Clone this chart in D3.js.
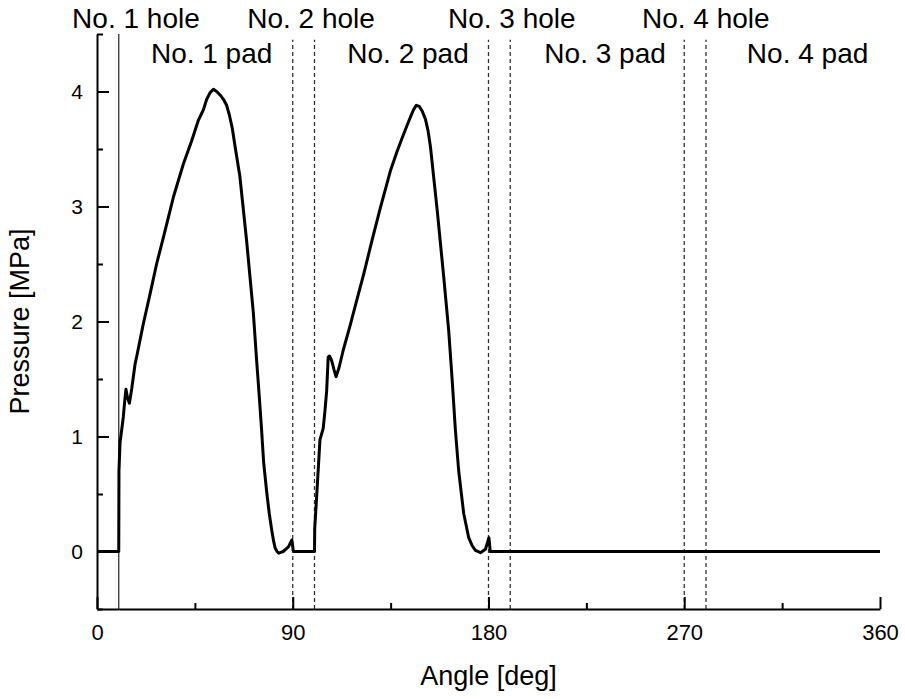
<!DOCTYPE html>
<html>
<head>
<meta charset="utf-8">
<script src="https://cdn.jsdelivr.net/npm/d3@7"></script>
<style>
  body { margin: 0; background: #fff; }
  text { font-family: "Liberation Sans", Arial, sans-serif; fill: #000; }
</style>
</head>
<body>
<div id="chart"></div>
<script>
// pressure trace (angle in deg, pressure in MPa)
var angle = [0, 10, 10.1, 10.6, 11.3, 12.1, 12.8, 13.3, 14.0, 14.9, 16.0, 17.5, 18.3, 19.8,
  21.3, 24.4, 27.4, 30.5, 35.1, 39.7, 43.5, 46.6, 48.9, 50.4, 52.0, 53.5, 55.0, 56.6, 58.2,
  59.6, 60.8, 62.2, 63.5, 65.7, 68.8, 71.9, 73.4, 74.6, 75.7, 76.6, 78.0, 79.2, 80.3, 81.2,
  81.9, 82.8, 83.6, 85.6, 88.0, 89.6, 90.2, 90.6,
  100, 100.1, 101.0, 102.5, 104.0, 104.8, 105.6, 106.3, 106.9, 107.9, 109.0, 109.9, 111.3,
  113.2, 116.3, 119.5, 122.6, 126.5, 130.3, 134.9, 138.0, 141.0, 143.5, 145.5, 146.8, 148.2,
  149.5, 151.0, 152.2, 153.3, 156.4, 159.4, 161.7, 163.3, 164.8, 166.3, 168.6, 170.9, 172.5,
  174.0, 176.3, 178.6, 180.2, 180.8, 360];
var pressure = [0, 0, 0.7, 0.95, 1.05, 1.17, 1.32, 1.41, 1.34, 1.29, 1.42, 1.63, 1.70, 1.84,
  1.98, 2.24, 2.50, 2.73, 3.08, 3.37, 3.57, 3.75, 3.84, 3.93, 3.99, 4.02, 4.00, 3.97, 3.93,
  3.88, 3.80, 3.68, 3.52, 3.26, 2.70, 2.07, 1.66, 1.35, 1.05, 0.78, 0.52, 0.33, 0.19, 0.09,
  0.03, 0.0, -0.015, 0.0, 0.04, 0.10, 0.01, 0,
  0, 0.2, 0.48, 0.97, 1.07, 1.22, 1.40, 1.69, 1.70, 1.66, 1.58, 1.52, 1.60,
  1.75, 1.96, 2.19, 2.41, 2.71, 2.99, 3.31, 3.48, 3.63, 3.75, 3.84, 3.88, 3.87,
  3.83, 3.76, 3.66, 3.52, 2.97, 2.39, 1.92, 1.49, 1.05, 0.70, 0.33, 0.12, 0.05,
  0.01, -0.01, 0.02, 0.12, 0, 0];

var xMajor = [0, 90, 180, 270, 360];
var xMinor = [45, 135, 225, 315];
var yMajor = [0, 1, 2, 3, 4];
var yMinor = [-0.5, 0.5, 1.5, 2.5, 3.5, 4.5];

// hole boundaries
var solidLines = [10];
var dashedLines = [90, 100, 180, 190, 270, 280];

var holeLabels = ["No. 1 hole", "No. 2 hole", "No. 3 hole", "No. 4 hole"];
var holeLabelAt = [17.9, 98.4, 190.7, 279.9];
var padLabels = ["No. 1 pad", "No. 2 pad", "No. 3 pad", "No. 4 pad"];
var padLabelAt = [52.7, 143.0, 233.6, 326.7];

var svgWidth = 905;
var svgHeight = 699;

var svg = d3.select("#chart")
  .append("svg")
  .attr("width", svgWidth)
  .attr("height", svgHeight);

var x = d3.scaleLinear().domain([0, 360]).range([97, 880]);
var y = d3.scaleLinear().domain([-0.5, 4.5]).range([609, 34]);

// boundary lines
svg.selectAll(".solid-line")
  .data(solidLines)
  .enter()
  .append("line")
  .attr("x1", d => x(d))
  .attr("x2", d => x(d))
  .attr("y1", y(-0.5))
  .attr("y2", y(4.5))
  .attr("stroke", "#333")
  .attr("stroke-width", 1.3);

svg.selectAll(".dash-line")
  .data(dashedLines)
  .enter()
  .append("line")
  .attr("x1", d => x(d))
  .attr("x2", d => x(d))
  .attr("y1", y(-0.5))
  .attr("y2", y(4.45))
  .attr("stroke", "#333")
  .attr("stroke-width", 1.3)
  .attr("stroke-dasharray", "4,3");

// minor ticks first, then major axes on top
svg.append("g")
  .attr("transform", `translate(0, ${y(-0.5)})`)
  .call(d3.axisBottom(x).tickValues(xMinor).tickSize(-6).tickSizeOuter(0).tickFormat(""))
  .call(g => g.select(".domain").remove())
  .selectAll("line").attr("stroke-width", 2);

svg.append("g")
  .attr("transform", `translate(${x(0)}, 0)`)
  .call(d3.axisLeft(y).tickValues(yMinor).tickSize(-6).tickSizeOuter(0).tickFormat(""))
  .call(g => g.select(".domain").remove())
  .selectAll("line").attr("stroke-width", 2);

var xAxis = svg.append("g")
  .attr("transform", `translate(0, ${y(-0.5)})`)
  .call(d3.axisBottom(x).tickValues(xMajor).tickFormat(d3.format("d"))
    .tickSize(-12).tickSizeOuter(0).tickPadding(15));

var yAxis = svg.append("g")
  .attr("transform", `translate(${x(0)}, 0)`)
  .call(d3.axisLeft(y).tickValues(yMajor).tickFormat(d3.format("d"))
    .tickSize(-12).tickSizeOuter(0).tickPadding(14));

[xAxis, yAxis].forEach(function(g) {
  g.select(".domain").attr("stroke-width", 2).attr("stroke", "#000");
  g.selectAll(".tick line").attr("stroke-width", 2).attr("stroke", "#000");
  g.selectAll(".tick text")
    .style("font-family", "'Liberation Sans', Arial, sans-serif")
    .attr("fill", "#000");
});
xAxis.selectAll(".tick text").style("font-size", "22px");
yAxis.selectAll(".tick text").style("font-size", "21px");

// pressure curve
var points = angle.map((a, i) => [a, pressure[i]]);
var line = d3.line()
  .x(d => x(d[0]))
  .y(d => y(d[1]));

svg.append("path")
  .datum(points)
  .attr("d", line)
  .attr("fill", "none")
  .attr("stroke", "#000")
  .attr("stroke-width", 3)
  .attr("stroke-linejoin", "round");

// region labels
svg.selectAll(".hole-label")
  .data(holeLabels)
  .enter()
  .append("text")
  .attr("x", (d, i) => x(holeLabelAt[i]))
  .attr("y", 28)
  .attr("text-anchor", "middle")
  .style("font-size", "28px")
  .text(d => d);

svg.selectAll(".pad-label")
  .data(padLabels)
  .enter()
  .append("text")
  .attr("x", (d, i) => x(padLabelAt[i]))
  .attr("y", 63)
  .attr("text-anchor", "middle")
  .style("font-size", "28px")
  .text(d => d);

// axis titles
svg.append("text")
  .attr("x", (x(0) + x(360)) / 2)
  .attr("y", 685)
  .attr("text-anchor", "middle")
  .style("font-size", "27px")
  .text("Angle [deg]");

svg.append("text")
  .attr("transform", `translate(29, ${(y(-0.5) + y(4.5)) / 2}) rotate(-90)`)
  .attr("text-anchor", "middle")
  .style("font-size", "27px")
  .text("Pressure [MPa]");
</script>
</body>
</html>
